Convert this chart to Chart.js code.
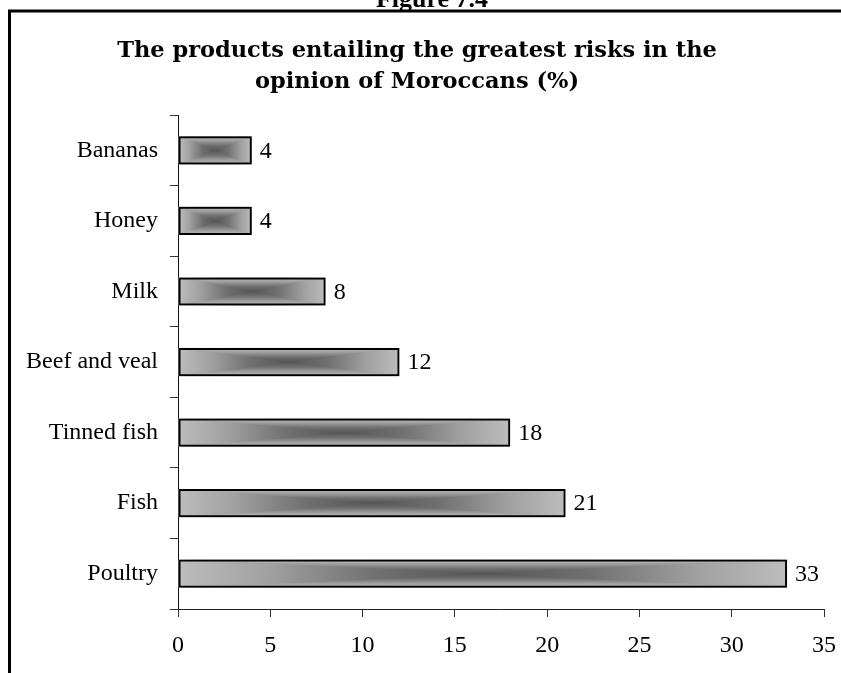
<!DOCTYPE html>
<html>
<head>
<meta charset="utf-8">
<script src="https://cdn.jsdelivr.net/npm/chart.js@4.4.1/dist/chart.umd.min.js"></script>
<style>
  body { margin: 0; background: #fff; }
  #wrap { position: relative; width: 841px; height: 673px; overflow: hidden; }
</style>
</head>
<body>
<div id="wrap"><canvas id="myChart" width="841" height="673"></canvas></div>
<script>
// data
let categories = ['Bananas', 'Honey', 'Milk', 'Beef and veal', 'Tinned fish', 'Fish', 'Poultry'];
let percentages = [4, 4, 8, 12, 18, 21, 33];
let xTicks = [0, 5, 10, 15, 20, 25, 30, 35];
let titleLines = ['The products entailing the greatest risks in the', 'opinion of Moroccans (%)'];
let figureLabel = 'Figure 7.4';

Chart.defaults.font.family = '"Liberation Serif", "Times New Roman", serif';
Chart.defaults.font.size = 24;
Chart.defaults.color = '#000';

// grey ramp, 0 = edge of the bar, 1 = centre
let ramp = [[0, '#bdbdbd'], [0.3, '#a0a0a0'], [0.65, '#707070'], [1, '#555555']];

function makeGrad(ctx, ax, ay, bx, by) {
    let g = ctx.createLinearGradient(ax, ay, bx, by);
    ramp.forEach(s => g.addColorStop(s[0], s[1]));
    return g;
}

// rectangular "from centre" fill, like the old Excel bars
function boxFill(ctx, x0, y0, x1, y1) {
    let cx = (x0 + x1) / 2, cy = (y0 + y1) / 2;
    // left and right halves
    ctx.fillStyle = makeGrad(ctx, x0, cy, cx, cy);
    ctx.fillRect(x0, y0, cx - x0 + 0.5, y1 - y0);
    ctx.fillStyle = makeGrad(ctx, x1, cy, cx, cy);
    ctx.fillRect(cx, y0, x1 - cx, y1 - y0);
    // top and bottom triangles
    ctx.fillStyle = makeGrad(ctx, cx, y0, cx, cy);
    ctx.beginPath();
    ctx.moveTo(x0, y0); ctx.lineTo(x1, y0); ctx.lineTo(cx, cy); ctx.closePath();
    ctx.fill();
    ctx.fillStyle = makeGrad(ctx, cx, y1, cx, cy);
    ctx.beginPath();
    ctx.moveTo(x0, y1); ctx.lineTo(x1, y1); ctx.lineTo(cx, cy); ctx.closePath();
    ctx.fill();
}

let barShading = {
    id: 'barShading',
    beforeDatasetsDraw(chart) {
        let ctx = chart.ctx;
        let meta = chart.getDatasetMeta(0);
        ctx.save();
        meta.data.forEach(el => {
            let p = el.getProps(['x', 'y', 'base', 'height'], true);
            let x0 = Math.min(p.base, p.x), x1 = Math.max(p.base, p.x);
            boxFill(ctx, x0, p.y - p.height / 2, x1, p.y + p.height / 2);
        });
        ctx.restore();
    },
    afterDatasetsDraw(chart) {
        let ctx = chart.ctx;
        let meta = chart.getDatasetMeta(0);
        ctx.save();
        ctx.font = '24px "Liberation Serif", serif';
        ctx.fillStyle = '#000';
        ctx.textAlign = 'left';
        ctx.textBaseline = 'middle';
        meta.data.forEach((el, i) => {
            let p = el.getProps(['x', 'y'], true);
            ctx.fillText(String(percentages[i]), p.x + 8, p.y + 1);
        });
        ctx.restore();
    }
};

// the cropped frame and figure number above it
let frame = {
    id: 'frame',
    afterDraw(chart) {
        let ctx = chart.ctx;
        ctx.save();
        ctx.strokeStyle = '#000';
        ctx.lineWidth = 3;
        ctx.beginPath();
        ctx.moveTo(9.5, 673);
        ctx.lineTo(9.5, 11);
        ctx.lineTo(841, 11);
        ctx.stroke();
        ctx.font = 'bold 26px "Liberation Serif", serif';
        ctx.fillStyle = '#000';
        ctx.textAlign = 'center';
        ctx.textBaseline = 'alphabetic';
        ctx.fillText(figureLabel, 432, 7);
        ctx.restore();
    }
};

let ctx = document.getElementById('myChart').getContext('2d');
let myChart = new Chart(ctx, {
    type: 'bar',
    data: {
        labels: categories,
        datasets: [{
            data: percentages,
            backgroundColor: 'rgba(0,0,0,0)',
            borderColor: '#000',
            borderWidth: 2,
            borderSkipped: false,
            categoryPercentage: 1,
            barPercentage: 0.4
        }]
    },
    plugins: [barShading, frame],
    options: {
        indexAxis: 'y',
        responsive: false,
        animation: false,
        devicePixelRatio: 1,
        layout: { padding: { left: 10, right: 17, top: 0, bottom: 0 } },
        plugins: {
            legend: { display: false },
            tooltip: { enabled: false },
            title: {
                display: true,
                text: titleLines,
                color: '#000',
                font: { family: '"DejaVu Serif", serif', size: 22.5, weight: 'bold', lineHeight: 1.38 },
                padding: { top: 36, bottom: 17 }
            }
        },
        scales: {
            x: {
                min: 0,
                max: 35,
                afterBuildTicks: s => { s.ticks = xTicks.map(v => ({ value: v })); },
                afterFit: s => { s.height = 64; s.paddingLeft = 0; s.paddingRight = 0; },
                grid: { drawOnChartArea: false, drawTicks: true, tickLength: 8, color: '#333' },
                border: { display: true, color: '#222', width: 1 },
                ticks: { padding: 14, maxRotation: 0 }
            },
            y: {
                afterFit: s => { s.width = 168; },
                grid: { drawOnChartArea: false, drawTicks: true, tickLength: 8, color: '#333', offset: true },
                border: { display: true, color: '#111', width: 1 },
                ticks: { padding: 12 }
            }
        }
    }
});
</script>
</body>
</html>
